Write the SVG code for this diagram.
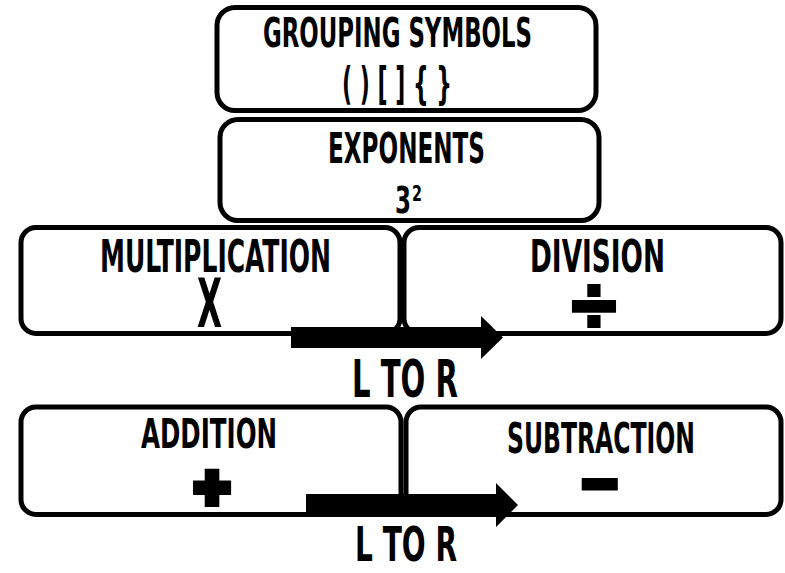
<svg xmlns="http://www.w3.org/2000/svg" width="785" height="573" viewBox="0 0 785 573">
<style>
.box{fill:#fff;stroke:#000;stroke-width:5}
.t{font-family:"DejaVu Sans","Liberation Sans",sans-serif;font-weight:bold;font-stretch:condensed;fill:#000}
.sym{font-family:"Liberation Sans","DejaVu Sans",sans-serif;font-weight:bold;fill:#000;stroke:#000;stroke-linejoin:miter}
.arrow{fill:#000}
</style>
<rect width="785" height="573" fill="#fff"/>
<g id="grouping">
<rect class="box" x="217" y="7.5" width="379" height="103" rx="18"/>
<text class="t" x="263" y="47" font-size="41" textLength="269" lengthAdjust="spacingAndGlyphs">GROUPING SYMBOLS</text>
<text class="t" x="342" y="99" font-size="45" textLength="110" lengthAdjust="spacingAndGlyphs">( ) [ ] { }</text>
</g>
<g id="exponents">
<rect class="box" x="220" y="119.5" width="379" height="101" rx="18"/>
<text class="t" x="328" y="163" font-size="42" textLength="157" lengthAdjust="spacingAndGlyphs">EXPONENTS</text>
<text class="t"><tspan x="395" y="213" font-size="37" textLength="16" lengthAdjust="spacingAndGlyphs">3</tspan><tspan x="412" y="201" font-size="21" textLength="10" lengthAdjust="spacingAndGlyphs">2</tspan></text>
</g>
<g id="multiplication">
<rect class="box" x="21" y="227.5" width="379" height="106" rx="15"/>
<text class="t" x="100" y="272" font-size="44" textLength="231" lengthAdjust="spacingAndGlyphs">MULTIPLICATION</text>
<text class="t" x="197" y="327" font-size="68" textLength="25" lengthAdjust="spacingAndGlyphs">X</text>
</g>
<g id="division">
<rect class="box" x="404" y="227.5" width="377" height="106" rx="15"/>
<text class="t" x="530" y="272" font-size="44" textLength="135" lengthAdjust="spacingAndGlyphs">DIVISION</text>
<text class="sym" x="594" y="333" font-size="80" stroke-width="4" text-anchor="middle">÷</text>
</g>
<g id="addition">
<rect class="box" x="21" y="407" width="380" height="107.5" rx="15"/>
<text class="t" x="141" y="448" font-size="41" textLength="136" lengthAdjust="spacingAndGlyphs">ADDITION</text>
<text class="sym" x="212" y="508" font-size="60" stroke-width="8" text-anchor="middle">+</text>
</g>
<g id="subtraction">
<rect class="box" x="406" y="407" width="375" height="107.5" rx="15"/>
<text class="t" x="507" y="453" font-size="42" textLength="188" lengthAdjust="spacingAndGlyphs">SUBTRACTION</text>
<text class="sym" x="599.5" y="504" font-size="60" stroke-width="6" text-anchor="middle">−</text>
</g>
<g id="connectors">
<polygon class="arrow" points="291,327 481,327 481,316 503,337.5 481,359 481,348 291,348"/>
<polygon class="arrow" points="306,494 496,494 496,483 518,505 496,527 496,517 306,517"/>
</g>
<g id="labels">
<text class="t" x="352" y="397" font-size="52" textLength="106" lengthAdjust="spacingAndGlyphs">L TO R</text>
<text class="t" x="355" y="561" font-size="48" textLength="102" lengthAdjust="spacingAndGlyphs">L TO R</text>
</g>
</svg>
